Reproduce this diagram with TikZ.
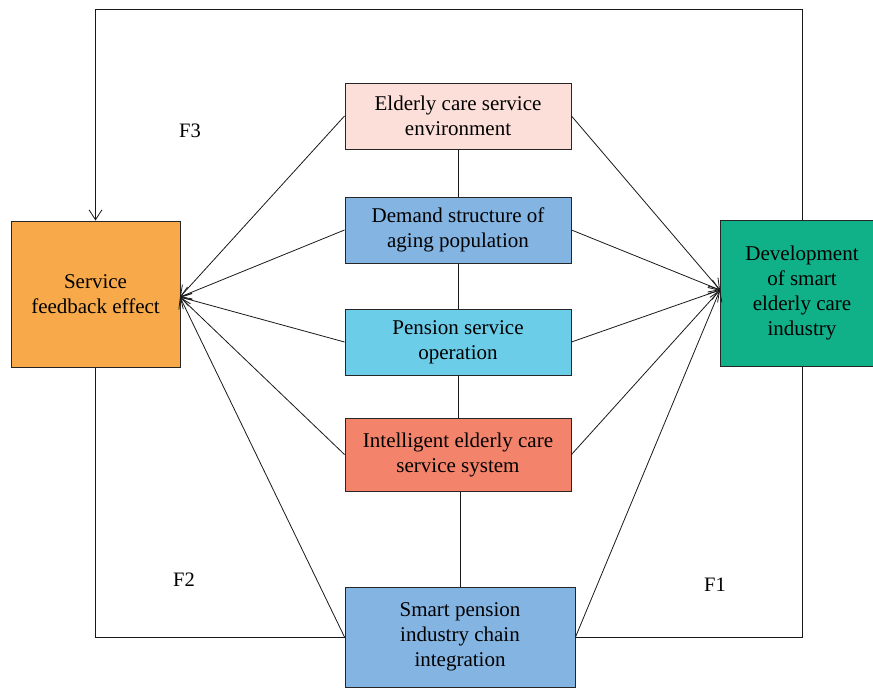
\documentclass[tikz,border=0pt]{standalone}
\usepackage{fontspec}
\setmainfont{Liberation Serif}
\usetikzlibrary{arrows.meta}
\definecolor{cpink}{HTML}{FDDFDA}
\definecolor{cblue}{HTML}{84B4E2}
\definecolor{ccyan}{HTML}{6CCDE8}
\definecolor{csalmon}{HTML}{F3836B}
\definecolor{corange}{HTML}{F8AA4B}
\definecolor{cgreen}{HTML}{10B088}
\begin{document}
\begin{tikzpicture}[x=1pt,y=-1pt,
  box/.style={draw=black!85,line width=1pt,rectangle,align=center,inner sep=0pt,
    font=\fontsize{21}{25}\selectfont},
  conn/.style={line width=0.8pt,draw=black!90},
  arr/.style={conn,-{Straight Barb[length=10pt,width=13pt,line width=0.8pt]}},
  lab/.style={font=\fontsize{20.5}{25}\selectfont,inner sep=0pt}]
\useasboundingbox (0,0) rectangle (873,688);
\node[box,fill=cpink,minimum width=226pt,minimum height=66pt] (b1) at (458,116) {Elderly care service\\environment};
\node[box,fill=cblue,minimum width=226pt,minimum height=66pt] (b2) at (458,230) {Demand structure of\\aging population};
\node[box,fill=ccyan,minimum width=226pt,minimum height=66pt] (b3) at (458,342) {Pension service\\operation};
\node[box,fill=csalmon,minimum width=226pt,minimum height=73pt] (b4) at (458,454.5) {Intelligent elderly care\\service system};
\node[box,fill=cblue,minimum width=230pt,minimum height=100pt] (b5) at (460,637) {Smart pension\\industry chain\\integration};
\node[box,fill=corange,minimum width=169pt,minimum height=146pt] (lf) at (95.5,294) {Service\\feedback effect};
\node[box,fill=cgreen,minimum width=164pt,minimum height=146pt] (rt) at (802,293) {Development\\of smart\\elderly care\\industry};
\coordinate (L) at (180,297);
\coordinate (R) at (720,290);
\coordinate (tl) at (95.5,9);
\coordinate (tr) at (802,9);
\draw[conn] (b1.south) -- (b2.north);
\draw[conn] (b2.south) -- (b3.north);
\draw[conn] (b3.south) -- (b4.north);
\draw[conn] (b5.north |- b4.south) -- (b5.north);
\foreach \b in {b1,b2,b3,b4,b5}{
  \draw[arr] (\b.west) -- (L);
  \draw[arr] (\b.east) -- (R);
}
\draw[arr] (rt.north) -- (tr) -- (tl) -- (lf.north);
\draw[conn] (rt.south) |- (b5.east);
\draw[conn] (lf.south) |- (b5.west);
\node[lab] (f3) at (190,131) {F3};
\node[lab] (f2) at (184,580) {F2};
\node[lab] (f1) at (715,585) {F1};
\end{tikzpicture}
\end{document}
